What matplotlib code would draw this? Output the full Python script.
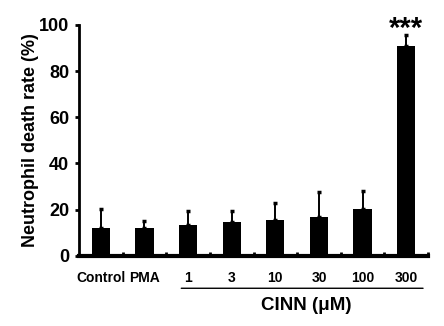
import matplotlib.pyplot as plt
import numpy as np

plt.rcParams['font.family'] = ['Liberation Sans', 'DejaVu Sans']
plt.rcParams['font.weight'] = 'bold'

labels = ['Control', 'PMA', '1', '3', '10', '30', '100', '300']
means = [12.0, 12.0, 13.3, 14.6, 15.4, 16.7, 20.2, 91.0]
errs = [8.3, 3.3, 6.3, 5.0, 7.5, 10.9, 7.9, 4.7]

fig = plt.figure(figsize=(4.44, 3.26), dpi=100)
ax = fig.add_axes([0.178, 0.215, 0.786, 0.709])

x = np.arange(len(labels))
ax.bar(x, means, width=0.42, color='black', zorder=2)
ax.errorbar(x, means, yerr=[np.zeros(len(errs)), errs], fmt='none', ecolor='black',
            elinewidth=1.4, capsize=1.5, capthick=2.5, clip_on=False, zorder=1)

ax.set_xlim(-0.5, 7.5)
ax.set_ylim(0, 100)
ax.spines['top'].set_visible(False)
ax.spines['right'].set_visible(False)
ax.spines['left'].set_linewidth(2)
ax.spines['bottom'].set_linewidth(3)

ax.set_yticks([0, 20, 40, 60, 80, 100])
ax.tick_params(axis='y', direction='out', length=3, width=2, labelsize=13, pad=4)
ax.set_xticks(x)
ax.set_xticklabels(labels, fontsize=10, fontweight='bold')
ax.tick_params(axis='x', length=0, pad=11)
ax.set_xticks(np.arange(0.5, 8, 1), minor=True)
ax.tick_params(axis='x', which='minor', direction='in', length=3, width=2)
for t in ax.get_yticklabels():
    t.set_fontweight('bold')

ax.set_ylabel('Neutrophil death rate (%)', fontsize=13, fontweight='bold')
ax.yaxis.set_label_coords(-0.115, 0.5)

ax.text(7, 98, '***', ha='center', va='center', fontsize=21, fontweight='bold', clip_on=False)

# bracket line under CINN doses
ax.annotate('', xy=(1.78, -0.14), xytext=(7.45, -0.14), xycoords=('data', 'axes fraction'),
            arrowprops=dict(arrowstyle='-', color='black', lw=1))
fig.text(0.69, 0.062, 'CINN (\u03bcM)', ha='center', va='center', fontsize=13.5, fontweight='bold')

fig.savefig('out.png', dpi=100)
